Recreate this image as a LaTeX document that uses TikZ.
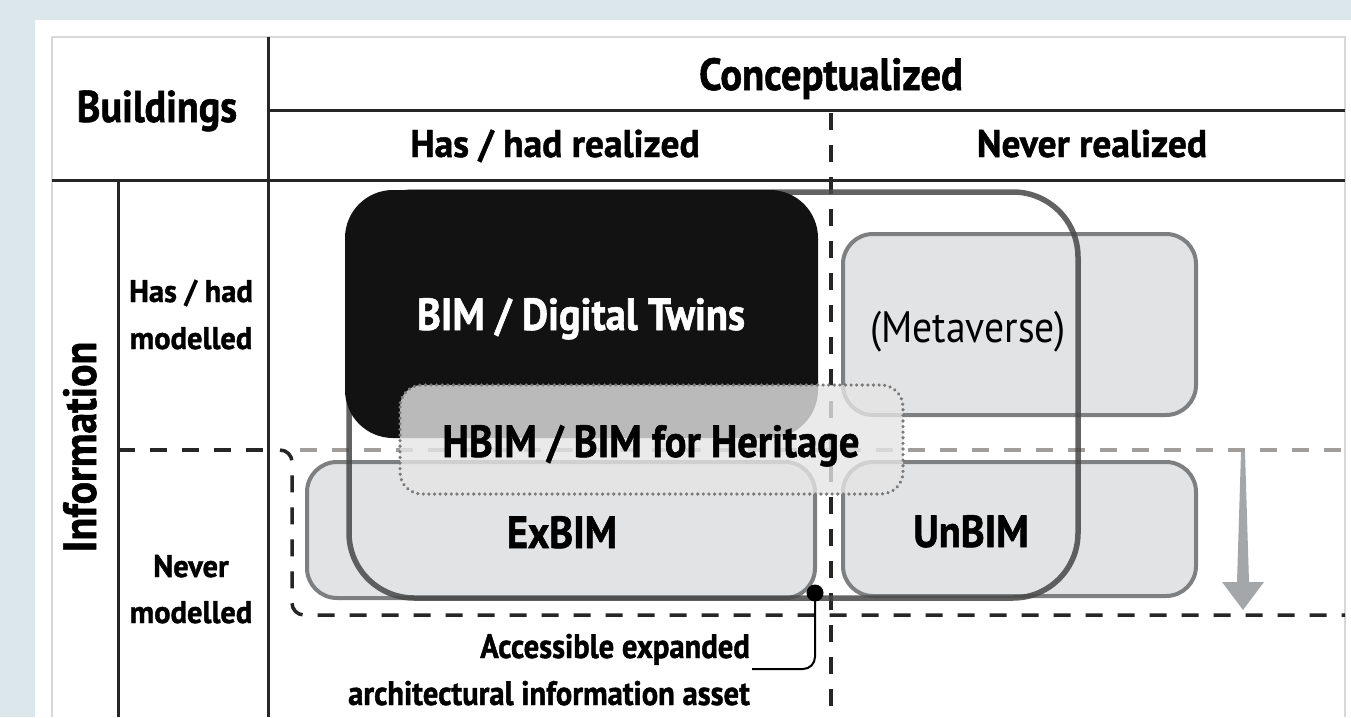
\documentclass[tikz,border=0pt]{standalone}
\usepackage{fontspec}
\setmainfont[FakeStretch=0.9, BoldFeatures={FakeBold=1.2}]{PT Sans}
\newfontfamily\subfont[FakeStretch=0.97, BoldFeatures={FakeBold=1.2}]{PT Sans}
\definecolor{bgblue}{HTML}{DCE7EB}
\definecolor{lineDark}{HTML}{262626}
\definecolor{boxFill}{HTML}{E1E3E5}
\definecolor{boxLine}{HTML}{7E7F80}
\definecolor{outl}{HTML}{474747}
\definecolor{arrowGray}{HTML}{A3A7A9}
\definecolor{midDash}{HTML}{A19D9B}
\definecolor{frameGray}{HTML}{D6D8D9}
\definecolor{bimBlack}{HTML}{121212}
\definecolor{dotGray}{HTML}{7A7A7A}
\begin{document}
\begin{tikzpicture}[x=1pt,y=-1pt,
  solidline/.style={draw=lineDark, line width=3},
  darkdash/.style={draw=lineDark, line width=3.5, dash pattern=on 17pt off 15pt},
  graydash/.style={draw=midDash, line width=3.5, dash pattern=on 17pt off 15pt},
  graybox/.style={fill=boxFill, draw=boxLine, line width=4, rounded corners=30},
  bigoutline/.style={draw=outl, draw opacity=0.85, line width=5.5, rounded corners=65},
  blackbox/.style={fill=bimBlack, rounded corners=48},
  hbimbox/.style={fill=white!90!black, fill opacity=0.8, draw=dotGray, line width=3.5, dash pattern=on 0.1pt off 5.5pt, line cap=round, rounded corners=22},
  hdr/.style={font=\bfseries\fontsize{45}{50}\selectfont, inner sep=0, anchor=base},
  sub/.style={font=\subfont\bfseries\fontsize{38.6}{44}\selectfont, inner sep=0, anchor=base},
  side/.style={font=\subfont\bfseries\fontsize{31.4}{36}\selectfont, inner sep=0, anchor=base},
  big/.style={font=\bfseries\fontsize{45}{50}\selectfont, inner sep=0, anchor=base},
  bigreg/.style={font=\fontsize{44}{48}\selectfont, inner sep=0, anchor=base},
  small/.style={font=\bfseries\fontsize{34}{38}\selectfont, inner sep=0, anchor=base east},
]
\useasboundingbox (0,0) rectangle (1351,717);
% background and panel
\fill[bgblue] (0,0) rectangle (1351,717);
\fill[white] (35,20) rectangle (1351,717);
\draw[frameGray, line width=1.5] (52,717) -- (52,37) -- (1345,37) -- (1345,717);
% grid lines
\draw[solidline] (268,37) -- (268,717);
\draw[solidline] (268,110) -- (1345,110);
\draw[solidline] (52,180) -- (1345,180);
\draw[solidline] (118,180) -- (118,717);
\draw[darkdash] (118,450) -- (268,450);
\draw[graydash] (300,450) -- (1345,450);
\draw[darkdash] (831,113) -- (831,717);
\draw[darkdash, rounded corners=12] (280,450) -- (292,450) -- (292,615) -- (1345,615);
% boxes
\draw[graybox] (307,462) rectangle (815,598);
\draw[graybox] (843,234) rectangle (1196,415);
\draw[graybox] (843,462) rectangle (1196,596);
\draw[bigoutline] (349,192) rectangle (1078,598);
\fill[blackbox] (345,190) rectangle (818,438);
\draw[hbimbox] (400,385) rectangle (903,494);
% arrow
\fill[arrowGray] (1241,452) -- (1245,452) -- (1249,582) -- (1264,582) -- (1243,610) -- (1222,582) -- (1237,582) -- cycle;
% headers
\node[hdr, font=\bfseries\fontsize{44.5}{50}\selectfont] (buildings) at (157,122) {Buildings};
\node[hdr] (concept) at (831,90) {Conceptualized};
\node[sub] (hasreal) at (555,157) {Has / had realized};
\node[sub] (neverreal) at (1092,157) {Never realized};
\node[hdr, font=\bfseries\fontsize{46.5}{50}\selectfont, rotate=90, anchor=base] (info) at (96,447) {Information};
\node[side] (hasmod1) at (191,302) {Has / had};
\node[side] (hasmod2) at (191,349) {modelled};
\node[side] (nevmod1) at (191,577) {Never};
\node[side] (nevmod2) at (191,623) {modelled};
% box labels
\node[big, text=white] (bim) at (581,330) {BIM / Digital Twins};
\node[bigreg] (meta) at (968,342) {(Metaverse)};
\node[big] (hbim) at (651,457) {HBIM / BIM for Heritage};
\node[big] (exbim) at (562,548) {ExBIM};
\node[big] (unbim) at (971,547) {UnBIM};
% accessible asset label and connector
\node[small] (asset1) at (750,658) {Accessible expanded};
\node[small] (asset2) at (750,705) {architectural information asset};
\node[circle, fill=black, inner sep=0, minimum size=17] (dot) at (815,593) {};
\coordinate (lblend) at (752,669);
\draw[black, line width=2, rounded corners=12] (dot.center) |- (lblend);
\end{tikzpicture}
\end{document}
